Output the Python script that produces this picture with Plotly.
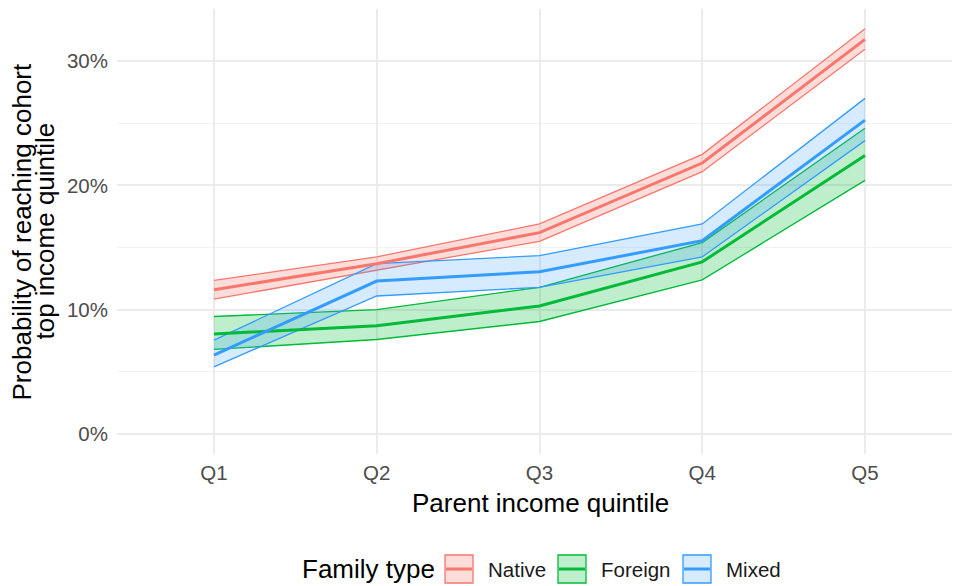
import plotly.graph_objects as go

quintiles = ["Q1", "Q2", "Q3", "Q4", "Q5"]
family_types = ["Native", "Foreign", "Mixed"]

native_mean = [11.6, 13.7, 16.2, 21.8, 31.75]
native_low = [10.85, 13.2, 15.5, 21.1, 30.95]
native_high = [12.35, 14.25, 16.9, 22.5, 32.6]

foreign_mean = [8.05, 8.7, 10.3, 13.85, 22.4]
foreign_low = [6.8, 7.6, 9.05, 12.4, 20.4]
foreign_high = [9.45, 10.0, 11.8, 15.4, 24.6]

mixed_mean = [6.35, 12.3, 13.05, 15.55, 25.25]
mixed_low = [5.4, 11.1, 11.8, 14.25, 23.6]
mixed_high = [7.55, 13.7, 14.35, 16.9, 27.0]

y_tick_values = [0, 10, 20, 30]
y_tick_labels = ["0%", "10%", "20%", "30%"]

colors = {"Native": "#F8766D", "Foreign": "#00BA38", "Mixed": "#339CFF"}
fills = {"Native": "rgba(248,118,109,0.25)", "Foreign": "rgba(0,186,56,0.25)",
         "Mixed": "rgba(51,156,255,0.2)"}
series = {
    "Native": (native_low, native_mean, native_high),
    "Foreign": (foreign_low, foreign_mean, foreign_high),
    "Mixed": (mixed_low, mixed_mean, mixed_high),
}

# page layout (screen pixels; the page body has an 8px margin)
OFF = 8
PL, PR, PT, PB = 117, 968, 9, 454
W, H = 960, 586


def px(x):
    return (x - PL) / (PR - PL)


def py(y):
    return (PB - y) / (PB - PT)


fig = go.Figure()
for name in family_types:
    lo, mean, hi = series[name]
    c = colors[name]
    fig.add_trace(go.Scatter(x=quintiles, y=lo, mode="lines", line=dict(color=c, width=1.3),
                             showlegend=False, hoverinfo="skip"))
    fig.add_trace(go.Scatter(x=quintiles, y=hi, mode="lines", line=dict(color=c, width=1.3),
                             fill="tonexty", fillcolor=fills[name], showlegend=False,
                             hoverinfo="skip"))
for name in family_types:
    lo, mean, hi = series[name]
    fig.add_trace(go.Scatter(x=quintiles, y=mean, mode="lines", name=name,
                             line=dict(color=colors[name], width=3), showlegend=False))

# legend drawn as shapes + text
annotations = []
shapes = []
annotations.append(dict(text="Family type", x=px(300), y=py(569), xref="paper", yref="paper",
                        xanchor="left", yanchor="middle", showarrow=False,
                        font=dict(size=26, color="#000000")))
key_x = {"Native": 445, "Foreign": 558, "Mixed": 683}
for name in family_types:
    x0 = key_x[name]
    shapes.append(dict(type="rect", xref="paper", yref="paper", x0=px(x0), x1=px(x0 + 28),
                       y0=py(555), y1=py(583), fillcolor=fills[name],
                       line=dict(color=colors[name], width=1.3), layer="above"))
    shapes.append(dict(type="line", xref="paper", yref="paper", x0=px(x0 + 1), x1=px(x0 + 27),
                       y0=py(569), y1=py(569), line=dict(color=colors[name], width=3),
                       layer="above"))
    annotations.append(dict(text=name, x=px(x0 + 41), y=py(569), xref="paper", yref="paper",
                            xanchor="left", yanchor="middle", showarrow=False,
                            font=dict(size=20.5, color="#1a1a1a")))

# y-axis title (two lines, tight spacing as in reference)
annotations.append(dict(text="Probability of reaching cohort", x=px(21), y=0.5,
                        xref="paper", yref="paper", textangle=-90, xanchor="center",
                        yanchor="middle", showarrow=False, font=dict(size=26, color="#000000")))
annotations.append(dict(text="top income quintile", x=px(44), y=0.5,
                        xref="paper", yref="paper", textangle=-90, xanchor="center",
                        yanchor="middle", showarrow=False, font=dict(size=26, color="#000000")))
annotations.append(dict(text="Parent income quintile", x=px(540), y=py(503),
                        xref="paper", yref="paper", xanchor="center",
                        yanchor="middle", showarrow=False, font=dict(size=26, color="#000000")))

x_lo = -(214 - PL) / 162.75
x_hi = 4 + (PR - 865) / 162.75

fig.update_layout(
    width=W, height=H,
    margin=dict(l=PL - OFF, r=W - (PR - OFF), t=PT - OFF, b=H - (PB - OFF)),
    plot_bgcolor="white", paper_bgcolor="white",
    font=dict(family="Liberation Sans, Arial, sans-serif", color="#000000"),
    showlegend=False,
    annotations=annotations,
    shapes=shapes,
)
fig.update_xaxes(
    type="category", range=[x_lo, x_hi], showgrid=True, gridcolor="#EBEBEB", gridwidth=2,
    zeroline=False, showline=False, ticks="", ticklabelstandoff=4,
    tickfont=dict(size=20.5, color="#4D4D4D"),
)
fig.update_yaxes(
    range=[-1.61, 34.19], tickvals=y_tick_values, ticktext=y_tick_labels,
    showgrid=True, gridcolor="#EBEBEB", gridwidth=2, zeroline=False, showline=False, ticks="",
    tickfont=dict(size=20.5, color="#4D4D4D"), ticklabelstandoff=8,
    minor=dict(tickvals=[5, 15, 25], showgrid=True, gridcolor="#F2F2F2", gridwidth=1),
)
fig.write_html("out.html")
